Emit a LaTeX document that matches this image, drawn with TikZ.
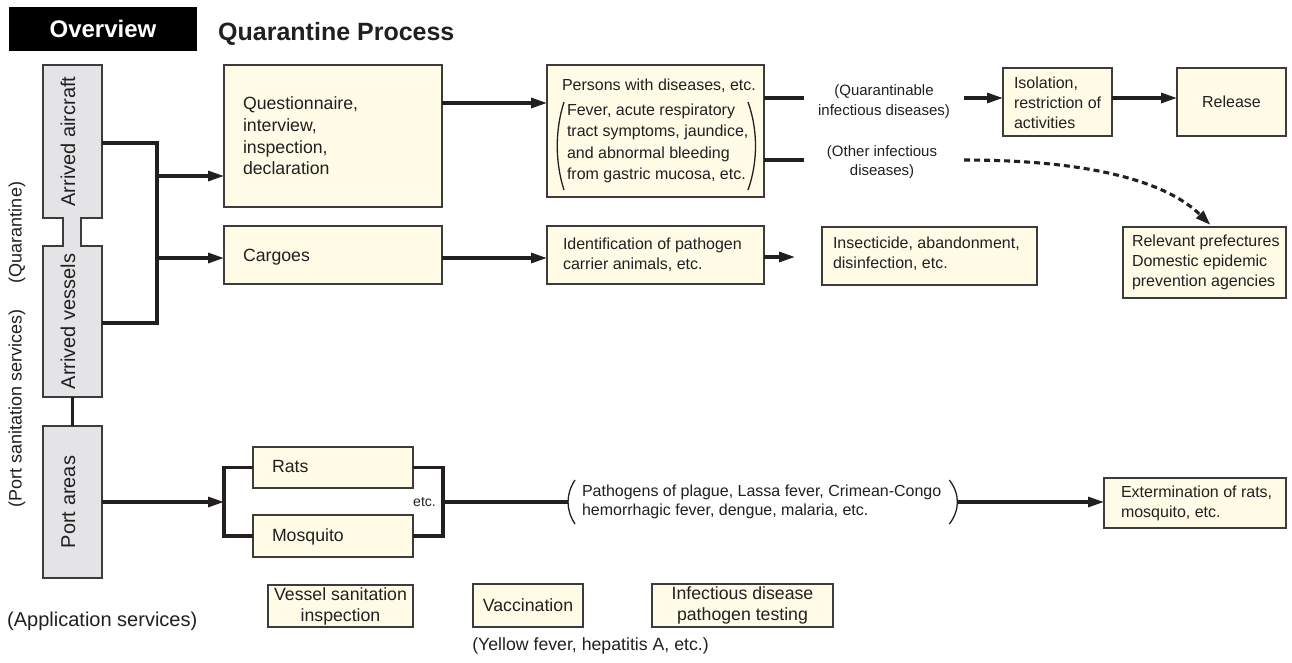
\documentclass[tikz,border=0pt]{standalone}
\usepackage{fontspec}
\setmainfont{Liberation Sans}
\usetikzlibrary{arrows.meta}
\definecolor{boxfill}{HTML}{FFFBE6}
\definecolor{grayfill}{HTML}{E4E4E7}
\definecolor{edge}{HTML}{3C3C3C}
\definecolor{ink}{HTML}{231F20}
\newcommand{\fbig}{\fontsize{17.7}{21.7}\selectfont}
\newcommand{\fsm}{\fontsize{16}{20}\selectfont}
\begin{document}
\begin{tikzpicture}[x=1pt,y=-1pt,
  box/.style={draw=edge, fill=boxfill, line width=1.4pt, inner sep=0pt, outer sep=0pt, text=ink},
  gbox/.style={draw=edge, fill=grayfill, line width=1.4pt, inner sep=0pt, outer sep=0pt},
  txt/.style={inner sep=0pt, outer sep=0pt, align=left, text=ink, anchor=west},
  rot/.style={inner sep=0pt, outer sep=0pt, rotate=90, anchor=base, text=ink},
  conn/.style={draw=ink, line width=3.1pt},
  arr/.style={conn, -{Triangle[length=16pt,width=10pt]}},
  paren/.style={draw=ink, line width=1.3pt}
]
\useasboundingbox (0,0) rectangle (1292,662);
\fill[white] (0,0) rectangle (1292,662);

% header
\node[fill=black, minimum width=188pt, minimum height=44pt, inner sep=0pt, text=white,
      font=\bfseries\fontsize{24}{28}\selectfont] (overview) at (103,29) {Overview};
\node[anchor=base west, inner sep=0pt, text=ink, font=\bfseries\fontsize{25}{30}\selectfont]
      (title) at (218,40) {Quarantine Process};

% side labels
\node[rot, font=\fontsize{18}{22}\selectfont] (quarlab) at (21.5,232.5) {(Quarantine)};
\node[rot, font=\fontsize{18}{22}\selectfont] (portlab) at (21.5,408.5) {(Port sanitation services)};
\node[anchor=base west, inner sep=0pt, text=ink, font=\fontsize{20}{24}\selectfont]
      (appl) at (7,626) {(Application services)};

% gray boxes
\node[gbox, minimum width=59pt, minimum height=153pt] (aircraft) at (72.5,141.5) {};
\node[gbox, minimum width=59pt, minimum height=151pt] (vessels) at (72.5,321.5) {};
\node[gbox, minimum width=59pt, minimum height=152pt] (port) at (72.5,502) {};
\fill[grayfill] (63.7,216.5) rectangle (80.3,247.5);
\draw[draw=edge, line width=1.4pt] (63,218) -- (63,246) (81,218) -- (81,246);
\node[rot, font=\fontsize{20}{24}\selectfont] (aircraftT) at (75,141.5) {Arrived aircraft};
\node[rot, font=\fontsize{20}{24}\selectfont] (vesselsT) at (75,321.5) {Arrived vessels};
\node[rot, font=\fontsize{20}{24}\selectfont] (portT) at (75,502) {Port areas};

% boxes column 1
\node[box, minimum width=218pt, minimum height=142pt] (q) at (333,136) {};
\node[txt, font=\fbig] (qT) at (243,136) {Questionnaire,\\interview,\\inspection,\\declaration};
\node[box, minimum width=218pt, minimum height=58pt] (cargoes) at (333,255) {};
\node[txt, font=\fbig] (cargoesT) at (243,257) {Cargoes};

% column 2
\node[box, minimum width=217pt, minimum height=132pt] (persons) at (655.5,131) {};
\node[txt, font=\fontsize{16}{21.4}\selectfont] (personsT) at (562,131)
  {Persons with diseases, etc.\\[3.6pt]
   \hspace*{5pt}Fever, acute respiratory\\
   \hspace*{5pt}tract symptoms, jaundice,\\
   \hspace*{5pt}and abnormal bleeding\\
   \hspace*{5pt}from gastric mucosa, etc.};
\draw[paren] (564,102) .. controls (555,130) and (555,162) .. (564,190);
\draw[paren] (748,102) .. controls (758,130) and (758,162) .. (748,190);

\node[box, minimum width=217pt, minimum height=58pt] (ident) at (655.5,255) {};
\node[txt, font=\fsm] (identT) at (563,255) {Identification of pathogen\\carrier animals, etc.};

% column 3
\node[inner sep=0pt, inner xsep=14pt, align=center, text=ink, font=\fontsize{15}{19.3}\selectfont]
  (quar) at (884,101.5) {(Quarantinable\\infectious diseases)};
\node[inner sep=0pt, align=center, text=ink, font=\fontsize{15}{19}\selectfont]
  (other) at (882,162) {(Other infectious\\diseases)};
\node[box, minimum width=215pt, minimum height=58pt] (insect) at (929.5,256) {};
\node[txt, font=\fsm] (insectT) at (833,254) {Insecticide, abandonment,\\disinfection, etc.};

% column 4
\node[box, minimum width=109pt, minimum height=68pt] (isol) at (1057.5,102) {};
\node[txt, font=\fsm] (isolT) at (1014,103) {Isolation,\\restriction of\\activities};
\node[box, minimum width=109pt, minimum height=68pt, font=\fsm] (release) at (1231.5,102) {Release};
\node[box, minimum width=163pt, minimum height=71pt] (relev) at (1204.5,262.5) {};
\node[txt, font=\fsm] (relevT) at (1132,262) {Relevant prefectures\\Domestic epidemic\\prevention agencies};

% port area row
\node[box, minimum width=160pt, minimum height=41pt] (rats) at (333,467.5) {};
\node[txt, font=\fbig] (ratsT) at (272,466) {Rats};
\node[box, minimum width=160pt, minimum height=42pt] (mosq) at (333,536) {};
\node[txt, font=\fbig] (mosqT) at (272,537) {Mosquito};
\node[inner sep=0pt, text=ink, font=\fontsize{14}{16}\selectfont] (etc) at (424.5,502) {etc.};
\node[txt, font=\fontsize{16}{19}\selectfont] (pathg) at (582,502)
  {Pathogens of plague, Lassa fever, Crimean-Congo\\hemorrhagic fever, dengue, malaria, etc.};
\coordinate (lpar) at ([xshift=-14pt]pathg.west);
\coordinate (rpar) at ([xshift=16pt]pathg.east);
\draw[paren] ([shift={(7,-22)}]lpar) .. controls ([shift={(-2.3,-8)}]lpar) and ([shift={(-2.3,8)}]lpar) .. ([shift={(7,22)}]lpar);
\draw[paren] ([shift={(-8,-22)}]rpar) .. controls ([shift={(2.7,-8)}]rpar) and ([shift={(2.7,8)}]rpar) .. ([shift={(-8,22)}]rpar);
\node[box, minimum width=182pt, minimum height=50pt] (exterm) at (1195,503) {};
\node[txt, font=\fsm] (extermT) at (1121,503) {Extermination of rats,\\mosquito, etc.};

% application services row
\node[box, minimum width=145pt, minimum height=42pt, align=center, font=\fontsize{17.7}{21}\selectfont]
  (vsi) at (340.5,606) {Vessel sanitation\\inspection};
\node[box, minimum width=110pt, minimum height=43pt, font=\fbig] (vacc) at (528,605.5) {Vaccination};
\node[box, minimum width=181pt, minimum height=43pt, align=center, font=\fontsize{17.7}{21}\selectfont]
  (idpt) at (742.5,605.5) {Infectious disease\\pathogen testing};
\node[inner sep=0pt, text=ink, font=\fbig] (yellow) at (590.5,645.5) {(Yellow fever, hepatitis A, etc.)};

% connectors
\coordinate (bx) at (157,0);
\coordinate (a1) at ([yshift=-1.5pt]aircraft.east);
\coordinate (v1) at ([yshift=-1.5pt]vessels.east);
\draw[conn] (a1) -| (bx |- v1) -- (v1);
\coordinate (qin) at ([yshift=-40pt]q.west);
\coordinate (cin) at ([yshift=-3pt]cargoes.west);
\draw[arr] (bx |- qin) -- (qin);
\draw[arr] (bx |- cin) -- (cin);
\draw[conn] (vessels.south) -- (port.north);

\coordinate (qout) at ([yshift=33pt]q.east);
\draw[arr] (qout) -- (qout -| persons.west);
\coordinate (cout) at ([yshift=-3pt]cargoes.east);
\draw[arr] (cout) -- (cout -| ident.west);
\coordinate (iout) at ([yshift=-2pt]ident.east);
\draw[arr, shorten >=27pt] (iout) -- (iout -| insect.west);

\coordinate (qline) at ([yshift=33pt]persons.east);
\draw[conn] (qline) -- (qline -| quar.west);
\draw[arr] (qline -| quar.east) -- (qline -| isol.west);
\draw[arr] ([yshift=4pt]isol.east) -- ([yshift=4pt]isol.east -| release.west);

\coordinate (oline) at ([yshift=-29pt]persons.east);
\draw[conn] (oline) -- (oline -| quar.west);
\draw[conn, dash pattern=on 6pt off 4pt, shorten >=3pt, -{Triangle[length=15pt,width=10pt]}]
  (oline -| quar.east) .. controls (1100,160) and (1170,185) .. ([xshift=8pt]relev.north);

\coordinate (lbx) at ([xshift=-29pt]rats.west);
\coordinate (rbx) at ([xshift=30pt]rats.east);
\draw[arr] (port.east) -- (lbx |- port.east);
\draw[conn] (rats.west) -| (lbx |- mosq.west) -- (mosq.west);
\draw[conn] (rats.east) -| (rbx |- mosq.east) -- (mosq.east);
\draw[conn] (rbx |- port.east) -- (lpar);
\draw[arr] (rpar) -- (rpar -| exterm.west);
\end{tikzpicture}
\end{document}
